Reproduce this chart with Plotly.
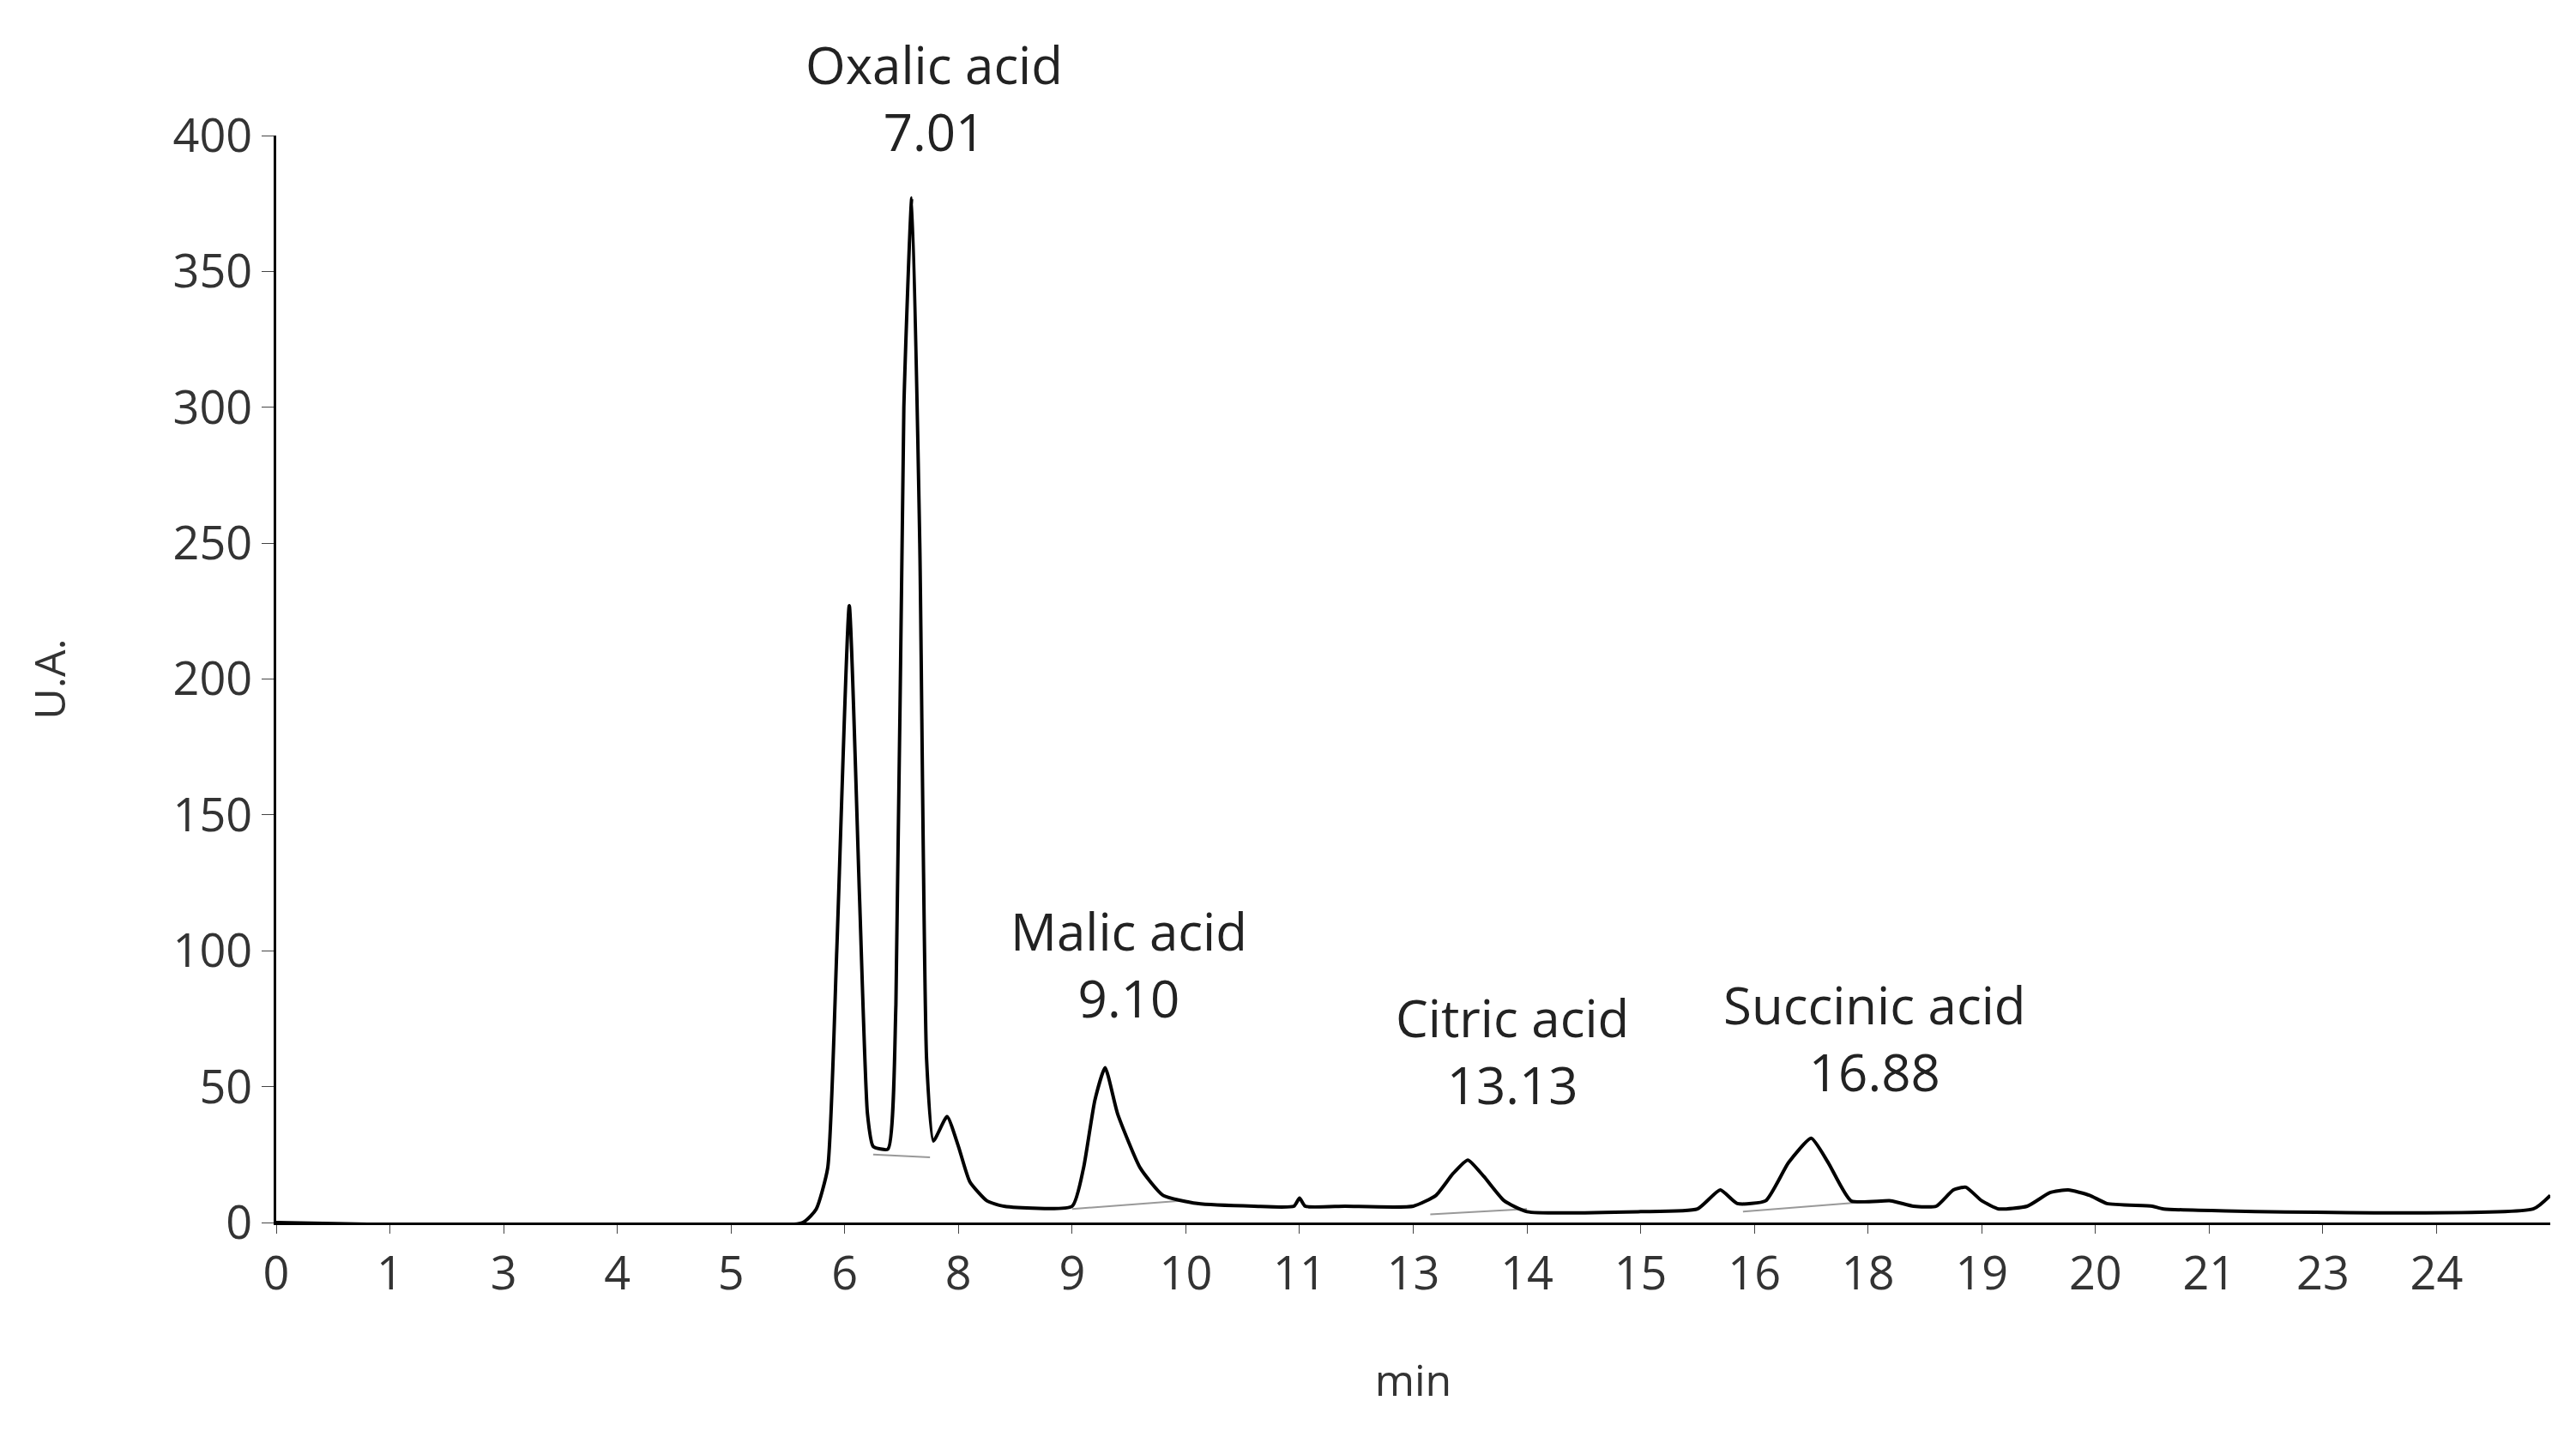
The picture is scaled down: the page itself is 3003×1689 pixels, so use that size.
import plotly.graph_objects as go

# x in tick-index units (labels are evenly spaced, see tick_text)
tick_text = ["0", "1", "3", "4", "5", "6", "8", "9", "10", "11",
             "13", "14", "15", "16", "18", "19", "20", "21", "23", "24"]

x = [0, 4.63, 4.75, 4.85, 4.93, 5.04, 5.13, 5.2, 5.25, 5.38, 5.45, 5.52, 5.59,
     5.66, 5.72, 5.78, 5.9, 6.0, 6.1, 6.25, 6.4, 7.0, 7.1, 7.2, 7.29, 7.4, 7.6,
     7.8, 8.1, 8.6, 8.95, 9.0, 9.05, 9.4, 10.0, 10.2, 10.35, 10.48, 10.62, 10.8,
     11.0, 12.0, 12.5, 12.7, 12.85, 13.1, 13.3, 13.5, 13.65, 13.85, 14.2, 14.4,
     14.6, 14.75, 14.86, 15.0, 15.15, 15.4, 15.6, 15.76, 15.95, 16.1, 16.5, 16.6,
     19.85, 20.0]
y = [0, 0, 5, 20, 100, 227, 120, 40, 28, 27, 80, 300, 377,
     250, 60, 30, 39, 28, 15, 8, 6, 6, 20, 45, 57, 40, 20,
     10, 7, 6, 6, 9, 6, 6, 6, 10, 18, 23, 17, 8,
     4, 4, 5, 12, 7, 8, 22, 31, 22, 8, 8, 6,
     6, 12, 13, 8, 5, 6, 11, 12, 10, 7, 6, 5,
     5, 10]

# grey integration baselines under peaks
base_segments = [([5.25, 5.75], [25, 24]), ([7.0, 7.95], [5, 8]),
                 ([10.15, 11.0], [3, 5]), ([12.9, 14.1], [4, 8])]

labels = ["Oxalic acid<br>7.01", "Malic acid<br>9.10", "Citric acid<br>13.13", "Succinic acid<br>16.88"]
label_x = [5.79, 7.5, 10.87, 14.06]
label_y = [414, 95, 63, 68]

fig = go.Figure()
for bx, by in base_segments:
    fig.add_trace(go.Scatter(x=bx, y=by, mode="lines", line=dict(color="#999999", width=2), showlegend=False))
fig.add_trace(go.Scatter(x=x, y=y, mode="lines", line=dict(color="black", width=4, shape="spline", smoothing=0.5),
                         showlegend=False))

for t, ax, ay in zip(labels, label_x, label_y):
    # label above the y range goes in paper coordinates so it is not hidden
    if ay > 400:
        fig.add_annotation(x=ax, y=ay / 400, yref="paper", text=t, showarrow=False,
                           font=dict(size=60, color="#222"), yanchor="middle")
    else:
        fig.add_annotation(x=ax, y=ay, text=t, showarrow=False, font=dict(size=60, color="#222"), yanchor="middle")

fig.update_layout(
    width=3003, height=1689, plot_bgcolor="white", paper_bgcolor="white",
    margin=dict(l=314, r=38, t=150, b=272),
    font=dict(family="Open Sans", color="#333"),
    xaxis=dict(range=[0, 20], tickvals=list(range(20)), ticktext=tick_text, showgrid=False,
               showline=True, linecolor="black", linewidth=3, ticks="outside", ticklen=10,
               tickfont=dict(size=54), zeroline=False,
               title=dict(text="min", font=dict(size=50), standoff=75)),
    yaxis=dict(range=[0, 400], tickvals=list(range(0, 401, 50)), showgrid=False,
               showline=True, linecolor="black", linewidth=3, ticks="outside", ticklen=14,
               tickfont=dict(size=54), zeroline=False,
               title=dict(text="U.A.", font=dict(size=50), standoff=110)),
)
fig.write_html("out.html")
